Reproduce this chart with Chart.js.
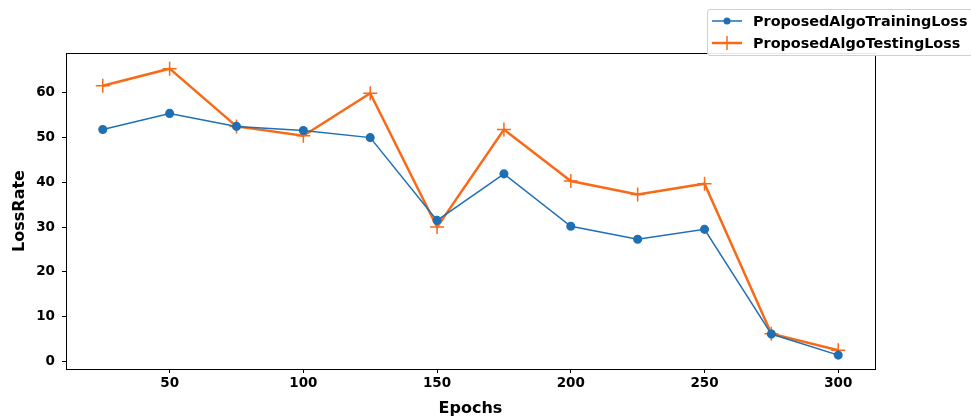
<!DOCTYPE html>
<html>
<head>
<meta charset="utf-8">
<script src="https://cdn.jsdelivr.net/npm/chart.js@4"></script>
<style>
  html, body { margin: 0; padding: 0; background: #fff; overflow: hidden; }
  #wrap { position: relative; width: 971px; height: 418px; overflow: hidden; }
  #legend {
    position: absolute; left: 707px; top: 9px; width: 275px; height: 47px;
    border: 1px solid #d0d0d0; border-radius: 3px; background: rgba(255,255,255,0.9);
    font-family: 'DejaVu Sans', sans-serif; font-weight: bold; font-size: 14.4px; color: #000;
    box-sizing: border-box;
  }
  #legend .row { position: absolute; left: 4px; height: 20px; display: flex; align-items: center; }
  #legend svg { margin-right: 11px; }
</style>
</head>
<body>
<div id="wrap">
  <canvas id="lossChart" width="971" height="418"></canvas>
  <div id="legend">
    <div class="row" style="top:1px">
      <svg width="30" height="20"><line x1="0" y1="10" x2="30" y2="10" stroke="#1f6fb4" stroke-width="1.5"/><circle cx="15" cy="10" r="3.5" fill="#1f6fb4"/></svg>
      <span>ProposedAlgoTrainingLoss</span>
    </div>
    <div class="row" style="top:23px">
      <svg width="30" height="20"><line x1="0" y1="10" x2="30" y2="10" stroke="#f86a17" stroke-width="2.5"/><line x1="15" y1="3" x2="15" y2="17" stroke="#f86a17" stroke-width="1.5"/></svg>
      <span>ProposedAlgoTestingLoss</span>
    </div>
  </div>
</div>
<script>
const epochs = [25, 50, 75, 100, 125, 150, 175, 200, 225, 250, 275, 300];
const trainingLoss = [51.8, 55.4, 52.5, 51.6, 50.0, 31.5, 41.9, 30.2, 27.3, 29.5, 6.1, 1.4];
const testingLoss = [61.6, 65.4, 52.5, 50.4, 59.9, 30.0, 51.8, 40.3, 37.3, 39.7, 6.2, 2.5];
const xTicks = [50, 100, 150, 200, 250, 300];
const yTicks = [0, 10, 20, 30, 40, 50, 60];

const ctx = document.getElementById('lossChart').getContext('2d');

// cadre complet autour de la zone de tracé (style matplotlib)
const framePlugin = {
    id: 'frame',
    afterDraw(chart) {
        const a = chart.chartArea;
        const c = chart.ctx;
        c.save();
        c.strokeStyle = '#000';
        c.lineWidth = 1;
        c.strokeRect(a.left + 0.5, a.top + 0.5, a.right - a.left, a.bottom - a.top);
        c.restore();
    }
};

const tickFont = { family: 'DejaVu Sans', weight: 'bold', size: 13.5 };
const titleFont = { family: 'DejaVu Sans', weight: 'bold', size: 16 };

new Chart(ctx, {
    type: 'line',
    data: {
        datasets: [
            {
                label: 'ProposedAlgoTrainingLoss',
                data: epochs.map((e, i) => ({ x: e, y: trainingLoss[i] })),
                borderColor: '#1f6fb4',
                backgroundColor: '#1f6fb4',
                borderWidth: 1.5,
                pointRadius: 3.8,
                pointStyle: 'circle',
                tension: 0
            },
            {
                label: 'ProposedAlgoTestingLoss',
                data: epochs.map((e, i) => ({ x: e, y: testingLoss[i] })),
                borderColor: '#f86a17',
                backgroundColor: '#f86a17',
                borderWidth: 2.5,
                pointRadius: 7,
                pointBorderWidth: 1.5,
                pointStyle: 'cross',
                tension: 0
            }
        ]
    },
    options: {
        responsive: false,
        animation: false,
        layout: { padding: { left: 0, right: 96, top: 53, bottom: 0 } },
        plugins: { legend: { display: false }, tooltip: { enabled: false } },
        scales: {
            x: {
                type: 'linear',
                min: 11.25,
                max: 313.75,
                afterBuildTicks: (s) => { s.ticks = xTicks.map(v => ({ value: v })); },
                afterFit: (s) => { s.height = 49; },
                grid: { display: true, drawOnChartArea: false, drawTicks: true, tickLength: 4, color: '#000' },
                border: { display: true, color: '#000' },
                ticks: { color: '#000', font: tickFont, padding: 2, maxRotation: 0 },
                title: { display: true, text: 'Epochs', color: '#000', font: titleFont, padding: { top: 0, bottom: 0 } }
            },
            y: {
                min: -1.7,
                max: 68.9,
                afterBuildTicks: (s) => { s.ticks = yTicks.map(v => ({ value: v })); },
                afterFit: (s) => { s.width = 66; },
                grid: { display: true, drawOnChartArea: false, drawTicks: true, tickLength: 4, color: '#000' },
                border: { display: true, color: '#000' },
                ticks: { color: '#000', font: tickFont, padding: 7 },
                title: { display: true, text: 'LossRate', color: '#000', font: titleFont, padding: { top: 10, bottom: 0 } }
            }
        }
    },
    plugins: [framePlugin]
});
</script>
</body>
</html>
